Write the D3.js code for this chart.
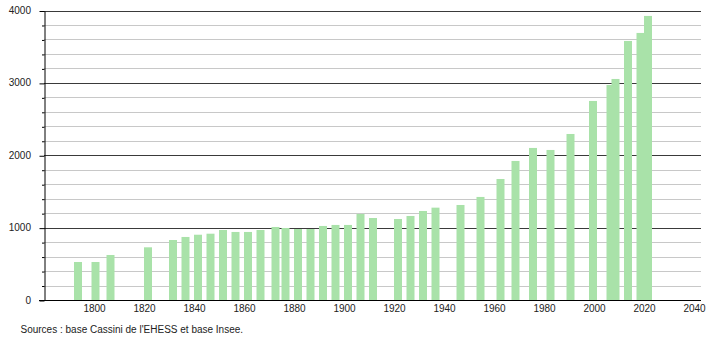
<html lang="fr">

<head>
    <meta charset="UTF-8">
    <script type="text/javascript" src="https://cdn.jsdelivr.net/npm/d3@7"></script>
    <title>Population</title>
    <style>
        body { margin: 0; background: #fff; }
        text { font-family: "Liberation Sans", Arial, sans-serif; }
    </style>
</head>

<body>
    <script type="text/javascript">

        // census years and population
        var years = [1793, 1800, 1806, 1821, 1831, 1836, 1841, 1846, 1851, 1856,
            1861, 1866, 1872, 1876, 1881, 1886, 1891, 1896, 1901, 1906,
            1911, 1921, 1926, 1931, 1936, 1946, 1954, 1962, 1968, 1975,
            1982, 1990, 1999, 2006, 2008, 2013, 2018, 2021];
        var population = [525, 525, 622, 728, 829, 871, 902, 916, 967, 940,
            940, 967, 1009, 995, 981, 981, 1023, 1037, 1037, 1189,
            1133, 1119, 1161, 1230, 1276, 1313, 1424, 1672, 1921, 2101,
            2073, 2294, 2750, 2971, 3054, 3579, 3690, 3925];

        var xTicks = [1800, 1820, 1840, 1860, 1880, 1900, 1920, 1940, 1960, 1980, 2000, 2020, 2040];
        var yMajor = [0, 1000, 2000, 3000, 4000];
        var yMinor = d3.range(0, 4001, 200);
        var source = "Sources : base Cassini de l'EHESS et base Insee.";

        var dataset = years.map(function (y, i) {
            return { year: y, pop: population[i] };
        });

        //Width and height
        var w = 710;
        var h = 340;
        var plotLeft = 44, plotRight = 701, plotTop = 10.5, plotBottom = 300;
        var barW = 8;

        var xScale = d3.scaleLinear()
            .domain([1800, 2040])
            .range([95.5, 695.5]);

        var yScale = d3.scaleLinear()
            .domain([0, 4000])
            .range([plotBottom, plotTop]);

        var svg = d3.select("body")
            .append("svg")
            .attr("width", w)
            .attr("height", h);

        // minor grid
        svg.append("g")
            .selectAll("line")
            .data(yMinor.filter(function (d) { return d % 1000 !== 0; }))
            .enter()
            .append("line")
            .attr("x1", plotLeft)
            .attr("x2", plotRight)
            .attr("y1", function (d) { return Math.round(yScale(d)) + 0.5; })
            .attr("y2", function (d) { return Math.round(yScale(d)) + 0.5; })
            .attr("stroke", "#c8c8c8")
            .attr("stroke-width", 1);

        // major grid
        svg.append("g")
            .selectAll("line")
            .data(yMajor.filter(function (d) { return d > 0; }))
            .enter()
            .append("line")
            .attr("x1", plotLeft)
            .attr("x2", plotRight)
            .attr("y1", function (d) { return Math.round(yScale(d)) + 0.5; })
            .attr("y2", function (d) { return Math.round(yScale(d)) + 0.5; })
            .attr("stroke", "#3a3a3a")
            .attr("stroke-width", 1);

        // bars
        svg.append("g")
            .selectAll("rect")
            .data(dataset)
            .enter()
            .append("rect")
            .attr("x", function (d) { return xScale(d.year) - barW / 2; })
            .attr("y", function (d) { return yScale(d.pop); })
            .attr("width", barW)
            .attr("height", function (d) { return yScale(0) - yScale(d.pop); })
            .attr("fill", "#a9e2a9");

        // y axis
        var yAxis = d3.axisLeft(yScale)
            .tickValues(yMinor)
            .tickSize(0)
            .tickFormat("");

        var gy = svg.append("g")
            .attr("transform", "translate(" + (plotLeft + 0.5) + ",0.5)")
            .call(yAxis);
        gy.select(".domain").attr("stroke", "#000");
        gy.selectAll(".tick line")
            .attr("x2", function (d) { return d % 1000 === 0 ? -5 : -2.5; })
            .attr("stroke", "#000");

        svg.append("g")
            .selectAll("text")
            .data(yMajor)
            .enter()
            .append("text")
            .text(function (d) { return d; })
            .attr("x", 31)
            .attr("y", function (d) { return yScale(d) + 3.5; })
            .attr("text-anchor", "end")
            .attr("font-size", "10px")
            .attr("fill", "#222");

        // x axis
        svg.append("line")
            .attr("x1", plotLeft - 5)
            .attr("x2", plotRight)
            .attr("y1", plotBottom + 0.5)
            .attr("y2", plotBottom + 0.5)
            .attr("stroke", "#000");

        svg.append("g")
            .selectAll("text")
            .data(xTicks)
            .enter()
            .append("text")
            .text(function (d) { return d; })
            .attr("x", function (d) { return xScale(d) - 1; })
            .attr("y", 312)
            .attr("text-anchor", "middle")
            .attr("font-size", "10px")
            .attr("fill", "#222");

        svg.append("text")
            .text(source)
            .attr("x", 20.5)
            .attr("y", 333)
            .attr("font-size", "10px")
            .attr("fill", "#222");
    </script>

</body>

</html>
